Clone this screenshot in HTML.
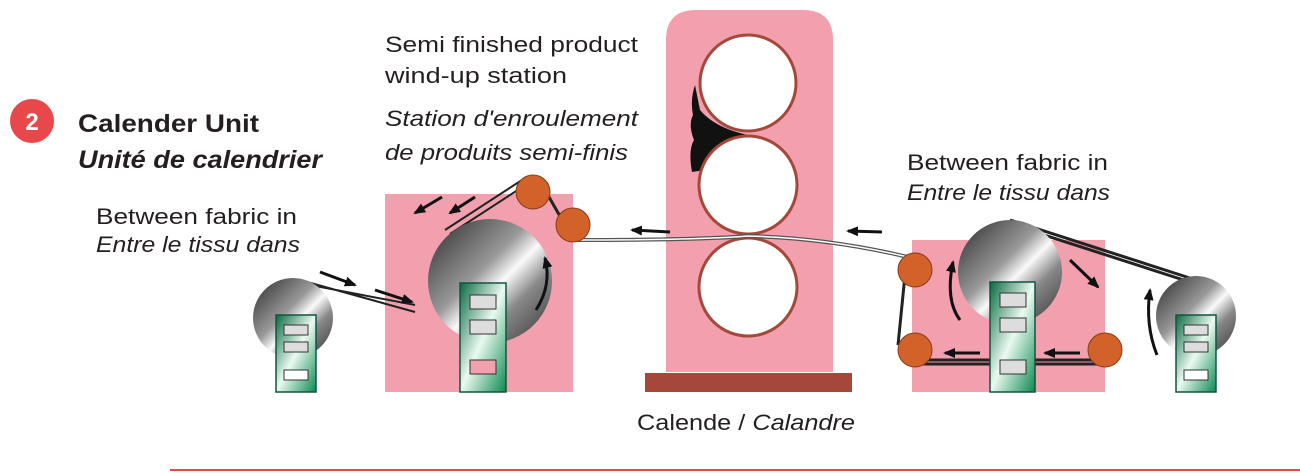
<!DOCTYPE html>
<html><head><meta charset="utf-8"><style>
body{margin:0;background:#fff;width:1300px;height:476px;overflow:hidden}
svg{display:block}
text{font-family:"Liberation Sans",sans-serif;fill:#231f20}
</style></head><body>
<svg width="1300" height="476" viewBox="0 0 1300 476">
<defs>
<linearGradient id="g" x1="0" y1="0" x2="1" y2="1">
<stop offset="0" stop-color="#2a2a2a"/><stop offset="0.42" stop-color="#999"/><stop offset="0.55" stop-color="#fafafa"/><stop offset="0.7" stop-color="#888"/><stop offset="1" stop-color="#333"/></linearGradient>
<linearGradient id="gr" x1="0" y1="0" x2="1" y2="1">
<stop offset="0" stop-color="#0a6a40"/><stop offset="0.5" stop-color="#eafaf0"/><stop offset="1" stop-color="#0a8a50"/></linearGradient>
<marker id="a" markerUnits="userSpaceOnUse" markerWidth="12" markerHeight="10" refX="10" refY="5" orient="auto"><path d="M0,0 L12,5 L0,10 z" fill="#111"/></marker>
</defs>
<circle cx="32" cy="121" r="22" fill="#e8484a"/>
<text x="32" y="130" text-anchor="middle" font-size="24" font-weight="bold" style="fill:#fff">2</text>
<text x="78" y="132" font-size="25" font-weight="bold" textLength="181" lengthAdjust="spacingAndGlyphs">Calender Unit</text>
<text x="78" y="168" font-size="25" font-weight="bold" font-style="italic" textLength="244" lengthAdjust="spacingAndGlyphs">Unité de calendrier</text>
<text x="96" y="224" font-size="22" textLength="201" lengthAdjust="spacingAndGlyphs">Between fabric in</text>
<text x="96" y="252" font-size="22" font-style="italic" textLength="204" lengthAdjust="spacingAndGlyphs">Entre le tissu dans</text>
<text x="385" y="52" font-size="22" textLength="253" lengthAdjust="spacingAndGlyphs">Semi finished product</text>
<text x="385" y="83" font-size="22" textLength="182" lengthAdjust="spacingAndGlyphs">wind-up station</text>
<text x="385" y="126" font-size="22" font-style="italic" textLength="253" lengthAdjust="spacingAndGlyphs">Station d'enroulement</text>
<text x="385" y="160" font-size="22" font-style="italic" textLength="243" lengthAdjust="spacingAndGlyphs">de produits semi-finis</text>
<text x="907" y="170" font-size="22" textLength="201" lengthAdjust="spacingAndGlyphs">Between fabric in</text>
<text x="907" y="200" font-size="22" font-style="italic" textLength="203" lengthAdjust="spacingAndGlyphs">Entre le tissu dans</text>
<text x="637" y="430" font-size="22" textLength="218" lengthAdjust="spacingAndGlyphs">Calende / <tspan font-style="italic">Calandre</tspan></text>
<line x1="170" y1="470" x2="1300" y2="470" stroke="#e8484a" stroke-width="2"/>
<!-- calender -->
<path d="M666,372 V40 Q666,10 696,10 H803 Q833,10 833,40 V372 Z" fill="#f29fae"/>
<rect x="645" y="373" width="207" height="19" fill="#a5483a"/>
<path d="M695,85 Q690,100 693,115 Q688,125 694,140 Q688,150 692,172 L705,170 Q715,140 748,135 Q715,128 700,110 Z" fill="#111"/>
<circle cx="748" cy="83" r="48" fill="#fff" stroke="#a5483a" stroke-width="3"/>
<circle cx="748" cy="185" r="49" fill="#fff" stroke="#a5483a" stroke-width="3"/>
<circle cx="748" cy="287" r="49" fill="#fff" stroke="#a5483a" stroke-width="3"/>
<!-- pink stations -->
<rect x="385" y="194" width="188" height="198" fill="#f29fae"/>
<rect x="912" y="240" width="193" height="152" fill="#f29fae"/>
<!-- fabric lines -->
<path d="M573,240 Q700,240 748,236 Q830,238 912,258" fill="none" stroke="#555" stroke-width="4"/>
<path d="M573,240 Q700,240 748,236 Q830,238 912,258" fill="none" stroke="#fff" stroke-width="1.5"/>
<path d="M310,285 L415,305 M300,280 L415,312" stroke="#222" stroke-width="2"/>
<path d="M445,230 L525,178 M450,234 L530,182" stroke="#222" stroke-width="2"/>
<path d="M545,190 L565,225" stroke="#222" stroke-width="3"/>
<path d="M1010,220 L1196,280 M1010,224 L1196,284" stroke="#222" stroke-width="3"/>
<path d="M905,275 L898,345 M910,360 H1100 M910,364 H1100" stroke="#222" stroke-width="3"/>
<!-- rolls -->
<circle cx="490" cy="281" r="62" fill="url(#g)"/>
<circle cx="293" cy="318" r="40" fill="url(#g)"/>
<circle cx="1010" cy="272" r="52" fill="url(#g)"/>
<circle cx="1196" cy="316" r="40" fill="url(#g)"/>
<!-- stands -->
<g stroke="#154" stroke-width="1.5">
<rect x="460" y="283" width="46" height="109" fill="url(#gr)"/>
<rect x="276" y="315" width="40" height="77" fill="url(#gr)"/>
<rect x="990" y="282" width="45" height="110" fill="url(#gr)"/>
<rect x="1176" y="315" width="40" height="77" fill="url(#gr)"/>
</g>
<g fill="#ddd" stroke="#333">
<rect x="470" y="295" width="26" height="14"/><rect x="470" y="320" width="26" height="14"/><rect x="470" y="360" width="26" height="14" fill="#f29fae"/>
<rect x="284" y="325" width="24" height="10"/><rect x="284" y="342" width="24" height="10"/><rect x="284" y="370" width="24" height="10" fill="#fff"/>
<rect x="1000" y="293" width="26" height="14"/><rect x="1000" y="318" width="26" height="14"/><rect x="1000" y="360" width="26" height="14"/>
<rect x="1184" y="325" width="24" height="10"/><rect x="1184" y="342" width="24" height="10"/><rect x="1184" y="370" width="24" height="10" fill="#fff"/>
</g>
<!-- orange rollers -->
<g fill="#d2622a" stroke="#8a3a15">
<circle cx="533" cy="192" r="17"/><circle cx="573" cy="225" r="17"/>
<circle cx="915" cy="270" r="17"/><circle cx="915" cy="350" r="17"/><circle cx="1105" cy="350" r="17"/>
</g>
<!-- arrows -->
<g stroke="#111" stroke-width="3" fill="none" marker-end="url(#a)">
<path d="M320,272 L355,285"/><path d="M375,290 L412,302"/>
<path d="M442,197 L415,213"/><path d="M475,197 L450,213"/>
<path d="M536,310 Q552,285 545,258"/>
<path d="M670,232 L632,230"/>
<path d="M882,232 L848,231"/>
<path d="M960,320 Q945,300 953,262"/>
<path d="M1070,260 L1098,287"/>
<path d="M980,353 L945,353"/><path d="M1080,353 L1045,353"/>
<path d="M1157,355 Q1145,325 1150,290"/>
</g>
</svg>
</body></html>
